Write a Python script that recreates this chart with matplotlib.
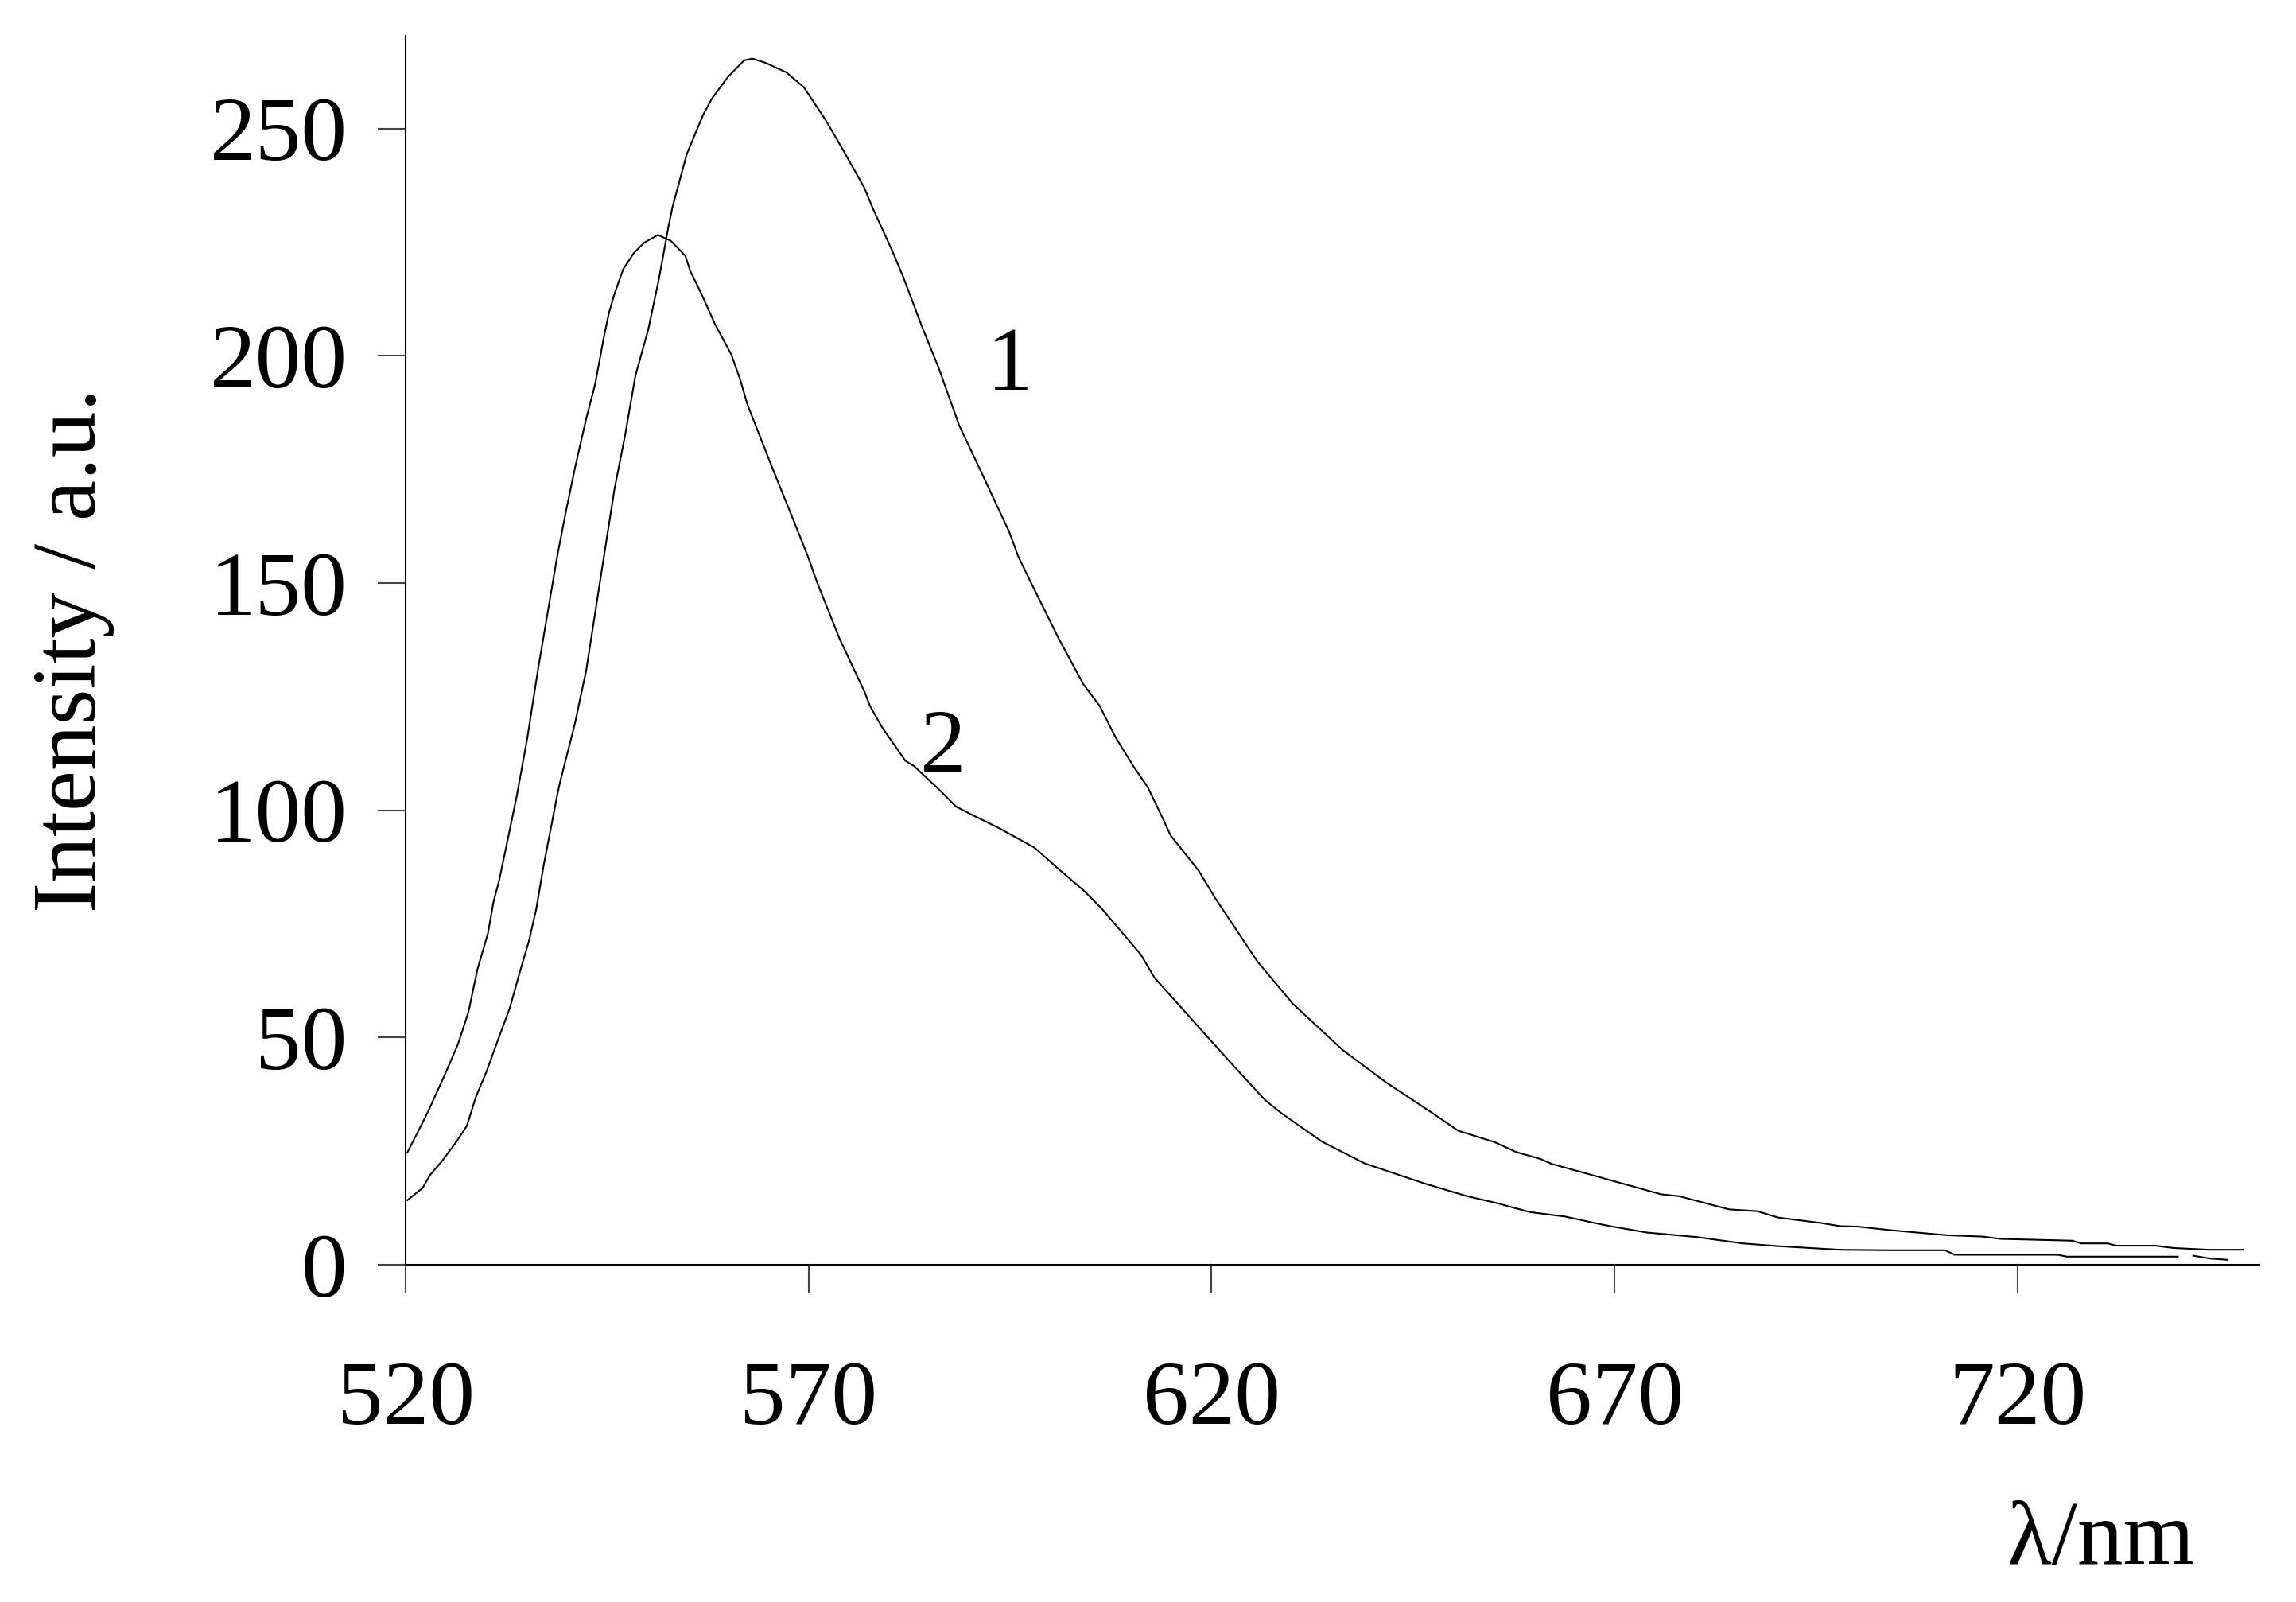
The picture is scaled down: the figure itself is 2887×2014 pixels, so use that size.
import numpy as np
import matplotlib
matplotlib.use('Agg')
import matplotlib.pyplot as plt

plt.rcParams['font.family'] = ['Liberation Serif', 'DejaVu Serif']

# curve 1 (taller peak)
wl1 = [520.2, 522.1, 523.0, 524.5, 526.3, 527.6, 528.7, 530.0, 531.6, 532.9,
       534.0, 535.3, 536.2, 537.1, 537.7, 538.8, 539.1, 541.0, 542.4, 544.6,
       545.9, 547.2, 548.5, 550.1, 551.4, 552.6, 553.1, 554.9, 556.9, 558.0,
       560.0, 562.0, 563.0, 564.6, 567.2, 569.4, 572.1, 574.3, 576.9, 578.0,
       580.4, 581.7, 584.2, 586.1, 588.7, 591.4, 594.9, 596.0, 597.5, 601.0,
       604.1, 606.1, 608.1, 610.3, 612.1, 614.0, 614.9, 618.4, 620.4, 625.7,
       630.1, 636.3, 641.6, 647.3, 650.6, 655.1, 657.8, 660.8, 662.2, 668.3,
       675.8, 678.0, 684.2, 687.7, 690.3, 695.6, 698.0, 700.2, 704.3, 711.3,
       715.7, 717.9, 726.8, 727.9, 731.2, 732.3, 737.1, 739.3, 743.8, 748.0]
int1 = [14.2, 16.9, 19.7, 22.8, 27.1, 30.6, 36.9, 42.4, 50.2, 56.4,
        63.4, 71.3, 78.3, 87.7, 93.2, 103.3, 105.8, 119.1, 130.8, 155.9,
        170.6, 182.3, 195.6, 205.8, 216.7, 228.4, 232.7, 244.5, 253.0, 256.6,
        261.4, 265.0, 265.4, 264.5, 262.4, 259.1, 251.9, 245.2, 237.0, 232.3,
        223.0, 217.5, 205.8, 197.5, 184.6, 174.5, 161.2, 155.9, 150.4, 137.9,
        127.7, 123.0, 116.0, 109.7, 105.0, 98.0, 94.5, 86.7, 80.8, 66.7,
        57.4, 47.2, 40.2, 33.5, 29.5, 27.0, 24.8, 23.3, 22.2, 19.2,
        15.5, 15.1, 12.2, 11.8, 10.4, 9.2, 8.5, 8.4, 7.6, 6.5,
        6.2, 5.7, 5.3, 4.7, 4.7, 4.2, 4.2, 3.7, 3.3, 3.3]

# curve 2 (blue-shifted peak)
wl2 = [520.2, 521.9, 522.8, 525.0, 526.5, 527.8, 528.9, 530.2, 530.9, 531.6,
       532.7, 533.8, 535.1, 536.4, 538.8, 539.9, 541.0, 542.4, 543.5, 544.6,
       545.2, 545.9, 547.0, 548.3, 549.6, 551.3, 552.9, 554.7, 555.3, 556.7,
       558.4, 560.4, 561.5, 562.4, 565.5, 568.1, 569.9, 571.0, 573.8, 576.9,
       577.6, 579.1, 582.0, 583.1, 586.1, 588.3, 590.5, 593.6, 598.0, 601.0,
       604.1, 606.3, 611.2, 612.9, 618.2, 622.2, 626.6, 628.7, 633.7, 639.0,
       646.4, 651.7, 655.1, 659.5, 663.9, 668.3, 670.1, 674.0, 680.2, 685.9,
       690.3, 698.0, 704.0, 711.0, 712.2, 721.1, 725.0, 726.1, 739.9, 740.8,
       741.8, 743.8, 746.0]
int2 = [24.7, 30.6, 33.8, 42.4, 48.6, 55.7, 65.0, 72.9, 79.9, 84.6,
        93.9, 103.3, 116.0, 130.8, 155.9, 165.9, 175.3, 186.2, 193.7, 204.2,
        209.3, 213.6, 219.1, 222.6, 224.9, 226.6, 225.3, 222.0, 218.7, 213.6,
        206.9, 200.3, 194.8, 189.3, 175.3, 163.9, 155.9, 150.4, 137.9, 126.2,
        123.0, 118.3, 110.9, 109.7, 104.7, 100.8, 98.8, 96.1, 91.8, 87.1,
        82.4, 78.5, 68.3, 63.2, 52.7, 44.8, 36.3, 33.3, 27.1, 22.3,
        17.9, 15.1, 13.7, 11.6, 10.6, 8.9, 8.3, 7.1, 6.1, 4.7,
        4.1, 3.3, 3.2, 3.2, 2.2, 2.2, 2.2, 1.8, 1.8, np.nan,
        2.0, 1.4, 1.1]

xticks = [520, 570, 620, 670, 720]
yticks = [0, 50, 100, 150, 200, 250]
curve_labels = ['1', '2']
label_pos = [(595.0, 192.5), (586.7, 108.4)]

fig = plt.figure(figsize=(28.87, 20.14), dpi=100)
ax = fig.add_axes([0.1767, 0.2105, 0.8073, 0.7674])

ax.plot(wl1, int1, '-k', lw=1.5)
ax.plot(wl2, int2, '-k', lw=1.5)

for txt, (x, y) in zip(curve_labels, label_pos):
    ax.text(x, y, txt, ha='center', va='baseline', fontsize=83)

ax.set_xlim(520, 750)
ax.set_ylim(0, 270.5)
ax.set_xticks(xticks)
ax.set_yticks(yticks)

for s in ['top', 'right']:
    ax.spines[s].set_visible(False)
for s in ['left', 'bottom']:
    ax.spines[s].set_linewidth(1.5)

ax.tick_params(axis='both', direction='out', length=25, width=1.5,
               color='#444444', labelsize=83)
ax.tick_params(axis='y', pad=28)
ax.tick_params(axis='x', pad=62)

fig.text(0.032, 0.594, 'Intensity / a.u.', rotation=90, ha='center',
         va='center', fontsize=83)
fig.text(0.915, 0.0238, 'λ/nm', ha='center', va='baseline', fontsize=83)

fig.savefig('out.png', dpi=100)
